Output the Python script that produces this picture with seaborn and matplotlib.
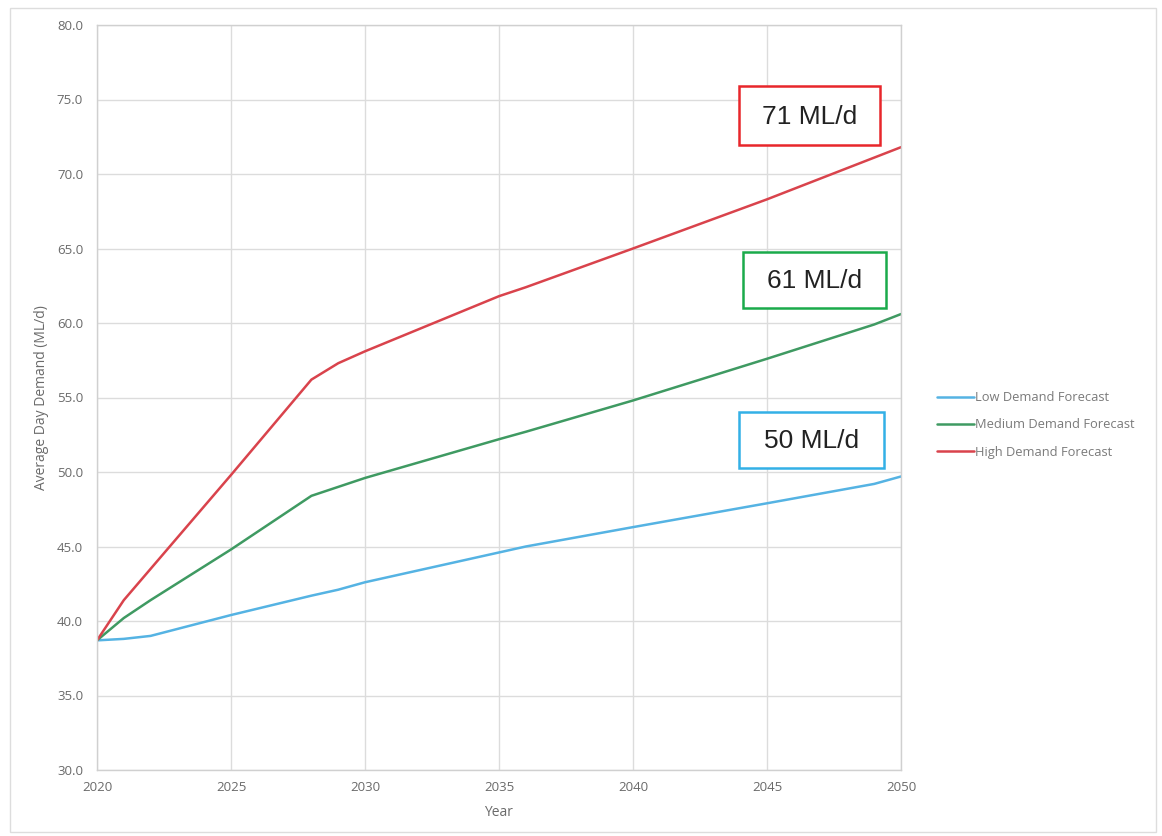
import matplotlib
matplotlib.use("Agg")
import matplotlib.pyplot as plt
from matplotlib.patches import Rectangle
from matplotlib.lines import Line2D
import seaborn as sns
import pandas as pd

# ---- data ----
years = [2020, 2021, 2022, 2025, 2028, 2029, 2030, 2035, 2036, 2040, 2045, 2049, 2050]
low_demand = [38.7, 38.8, 39.0, 40.4, 41.7, 42.1, 42.6, 44.6, 45.0, 46.3, 47.9, 49.2, 49.7]
medium_demand = [38.7, 40.2, 41.4, 44.8, 48.4, 49.0, 49.6, 52.2, 52.7, 54.8, 57.6, 59.9, 60.6]
high_demand = [38.7, 41.4, 43.5, 49.8, 56.2, 57.3, 58.1, 61.8, 62.4, 65.0, 68.3, 71.1, 71.8]
series_names = ["Low Demand Forecast", "Medium Demand Forecast", "High Demand Forecast"]
end_labels = ["50 ML/d", "61 ML/d", "71 ML/d"]
x_ticks = [2020, 2025, 2030, 2035, 2040, 2045, 2050]
y_ticks = [30, 35, 40, 45, 50, 55, 60, 65, 70, 75, 80]

line_colors = {"Low Demand Forecast": "#55b3e3",
               "Medium Demand Forecast": "#3f9a62",
               "High Demand Forecast": "#d9434c"}
box_colors = ["#33b0e6", "#1aaa4b", "#e8262b"]

df = pd.DataFrame({
    "Year": years * 3,
    "Demand": low_demand + medium_demand + high_demand,
    "Series": [series_names[0]] * len(years) + [series_names[1]] * len(years)
              + [series_names[2]] * len(years),
})

sns.set_theme(style="white")
plt.rcParams["font.family"] = ["Open Sans", "DejaVu Sans"]

W, H = 1162, 836
fig = plt.figure(figsize=(W / 100, H / 100), dpi=100)
ax = fig.add_axes([97 / W, 1 - 770 / H, (901 - 97) / W, (770 - 25) / H])

sns.lineplot(data=df, x="Year", y="Demand", hue="Series", palette=line_colors,
             linewidth=1.8, ax=ax, legend=False, hue_order=series_names)

ax.set_xlim(2020, 2050)
ax.set_ylim(30, 80)
ax.set_xticks(x_ticks)
ax.set_yticks(y_ticks)
ax.set_yticklabels([f"{v:.1f}" for v in y_ticks])
ax.grid(True, color="#dcdcdc", linewidth=1.0)
ax.set_axisbelow(True)
for s in ax.spines.values():
    s.set_color("#d0d0d0")
    s.set_linewidth(1.0)
ax.tick_params(axis="both", length=0, labelsize=9.5, labelcolor="#6a6a6a")
ax.tick_params(axis="y", pad=10)
ax.tick_params(axis="x", pad=8)
ax.set_xlabel("Year", fontsize=10, color="#6a6a6a", labelpad=8)
ax.set_ylabel("Average Day Demand (ML/d)", fontsize=10, color="#6a6a6a", labelpad=6)

# legend
handles = [Line2D([0], [0], color=line_colors[n], linewidth=1.8) for n in series_names]
leg = fig.legend(handles, series_names, loc="center left",
                 bbox_to_anchor=(937 / W, 1 - 425 / H), frameon=False,
                 fontsize=9.3, handlelength=2.9, handletextpad=0.05,
                 labelspacing=1.1, borderaxespad=0, borderpad=0)
for t in leg.get_texts():
    t.set_color("#7a7a7a")

# annotation boxes (figure pixel positions)
boxes = [(739, 412, 884, 468), (743, 252, 886, 308), (739, 86, 880, 145)]
for (x0, y0, x1, y1), lab, col in zip(boxes, end_labels, box_colors):
    fig.patches.append(Rectangle((x0 / W, 1 - y1 / H), (x1 - x0) / W, (y1 - y0) / H,
                                 transform=fig.transFigure, facecolor="white",
                                 edgecolor=col, linewidth=1.8, zorder=5))
    fig.text((x0 + x1) / 2 / W, 1 - ((y0 + y1) / 2 + 1) / H, lab, ha="center", va="center",
             fontsize=19, color="#222222", family=["Liberation Sans", "DejaVu Sans"],
             zorder=6)

# outer frame
fig.patches.append(Rectangle((10 / W, 1 - 832 / H), (1156 - 10) / W, (832 - 8) / H,
                             transform=fig.transFigure, facecolor="none",
                             edgecolor="#dddddd", linewidth=1.0, zorder=0))

fig.savefig("out.png", dpi=100, facecolor="white")
